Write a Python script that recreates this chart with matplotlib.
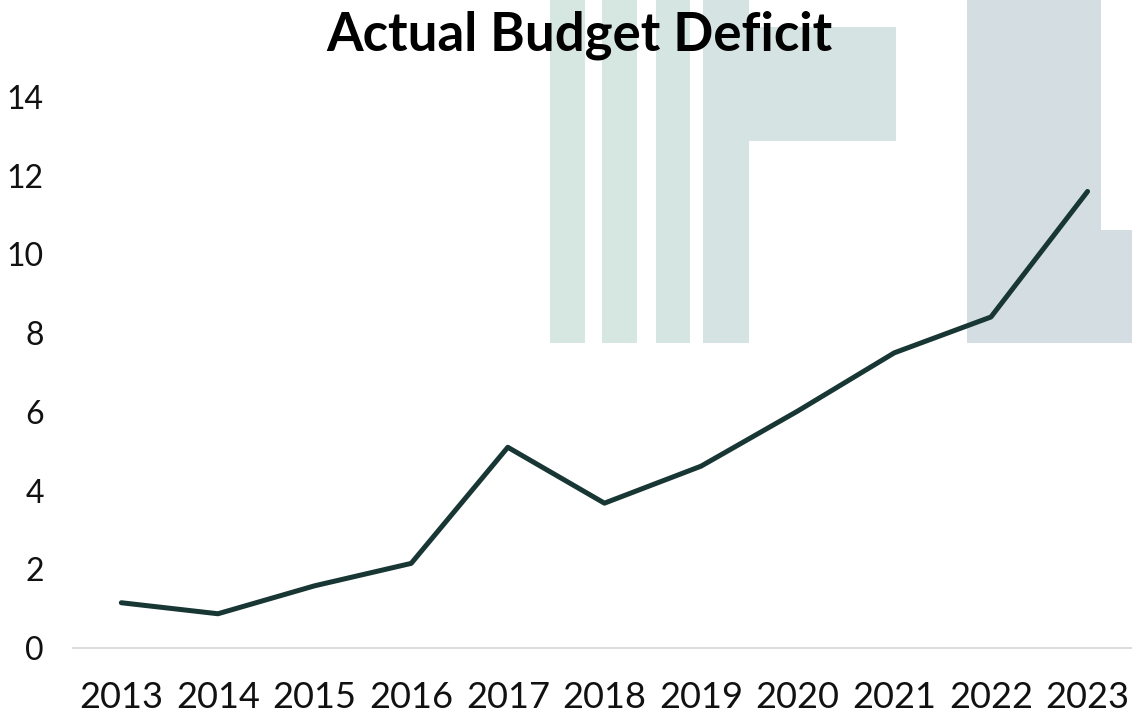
import matplotlib
matplotlib.use("Agg")
import matplotlib.pyplot as plt
from matplotlib.patches import Rectangle

years = ["2013", "2014", "2015", "2016", "2017", "2018", "2019", "2020", "2021", "2022", "2023"]
deficit = [1.15, 0.87, 1.58, 2.15, 5.1, 3.68, 4.62, 6.02, 7.5, 8.41, 11.6]
y_ticks = [0, 2, 4, 6, 8, 10, 12, 14]

W, H = 1132, 713
fig = plt.figure(figsize=(W / 100, H / 100), dpi=100)


def px_rect(x0, y0, x1, y1, color):
    # watermark block given in pixel coords (top-left origin)
    r = Rectangle((x0 / W, 1 - y1 / H), (x1 - x0) / W, (y1 - y0) / H,
                  transform=fig.transFigure, facecolor=color,
                  edgecolor="none", zorder=-1)
    fig.patches.append(r)


# faint logo watermark behind the chart
px_rect(550, 0, 585, 343, "#d6e7e1")
px_rect(602, 0, 637, 343, "#d6e7e1")
px_rect(656, 0, 690, 343, "#d5e5e1")
px_rect(703, 0, 749, 343, "#d5e3e2")
px_rect(703, 27, 896, 141, "#d5e3e2")
px_rect(967, 0, 1101, 343, "#d3dde2")
px_rect(1101, 230, 1132, 343, "#d3dde2")

ax = fig.add_axes([73 / W, 1 - 648 / H, 1059 / W, (648 - 97) / H])
ax.set_facecolor("none")

x = list(range(len(years)))
ax.plot(x, deficit, color="#173634", linewidth=3.6,
        solid_capstyle="round", solid_joinstyle="round")

ax.set_xlim(-0.5, 10.46)
ax.set_ylim(0, 14)
ax.set_xticks(x)
ax.set_xticklabels(years)
ax.set_yticks(y_ticks)

for s in ["top", "right", "left"]:
    ax.spines[s].set_visible(False)
ax.spines["bottom"].set_color("#d9d9d9")
ax.spines["bottom"].set_linewidth(1.3)

ax.tick_params(axis="x", length=0, pad=24, labelsize=26)
ax.tick_params(axis="y", length=0, pad=21, labelsize=23)
for lab in ax.get_xticklabels() + ax.get_yticklabels():
    lab.set_fontfamily("Lato")
    lab.set_color("#111111")

fig.text(579 / W, 1 - 50 / H, "Actual Budget Deficit", ha="center",
         va="baseline", fontsize=38, fontweight="bold", fontfamily="Lato",
         color="black")

plt.savefig("out.png", dpi=100)
